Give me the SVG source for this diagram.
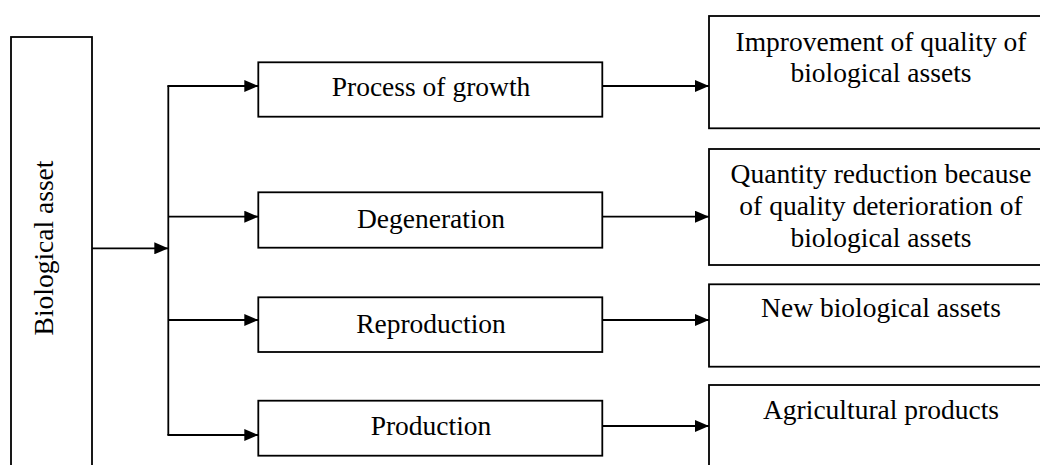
<svg xmlns="http://www.w3.org/2000/svg" width="1040" height="465" viewBox="0 0 1040 465">
<style>
.box{fill:#fff;stroke:#000;stroke-width:1.8}
.t{font-family:"Liberation Serif","Times New Roman",serif;font-size:27.5px;fill:#000;text-anchor:middle}
.c{fill:none;stroke:#000;stroke-width:1.8}
</style>
<defs>
<marker id="ah" markerUnits="userSpaceOnUse" markerWidth="14" markerHeight="12" refX="14" refY="6" orient="auto">
<path d="M0,0 L14,6 L0,12 Z" fill="#000"/>
</marker>
</defs>
<rect width="1040" height="465" fill="#fff"/>
<g id="n-bio">
<rect class="box" x="11" y="37" width="81" height="440"/>
<text class="t" transform="translate(53,248) rotate(-90)">Biological asset</text>
</g>
<g id="n-growth">
<rect class="box" x="258.3" y="62.3" width="344" height="54.4"/>
<text class="t" x="431" y="96">Process of growth</text>
</g>
<g id="n-degen">
<rect class="box" x="258.3" y="192.3" width="344" height="55.4"/>
<text class="t" x="431" y="228">Degeneration</text>
</g>
<g id="n-repro">
<rect class="box" x="258.3" y="297.3" width="344" height="54.7"/>
<text class="t" x="431" y="333">Reproduction</text>
</g>
<g id="n-prod">
<rect class="box" x="258.3" y="400.7" width="344" height="55"/>
<text class="t" x="431" y="435">Production</text>
</g>
<g id="n-improve">
<rect class="box" x="709" y="16" width="345" height="112.3"/>
<text class="t" x="881" y="50.7">Improvement of quality of</text>
<text class="t" x="881" y="81.7">biological assets</text>
</g>
<g id="n-quantity">
<rect class="box" x="709" y="149" width="345" height="116"/>
<text class="t" x="881" y="183.3">Quantity reduction because</text>
<text class="t" x="881" y="215">of quality deterioration of</text>
<text class="t" x="881" y="247.3">biological assets</text>
</g>
<g id="n-new">
<rect class="box" x="709" y="284.3" width="345" height="82.4"/>
<text class="t" x="881" y="316.7">New biological assets</text>
</g>
<g id="n-agri">
<rect class="box" x="709" y="385" width="345" height="100"/>
<text class="t" x="881" y="419.3">Agricultural products</text>
</g>
<g id="connectors">
<line class="c" x1="92" y1="248.3" x2="168.3" y2="248.3" marker-end="url(#ah)"/>
<line class="c" x1="168.3" y1="85.7" x2="168.3" y2="435"/>
<line class="c" x1="167.4" y1="86" x2="258.3" y2="86" marker-end="url(#ah)"/>
<line class="c" x1="168.3" y1="216.7" x2="258.3" y2="216.7" marker-end="url(#ah)"/>
<line class="c" x1="168.3" y1="320" x2="258.3" y2="320" marker-end="url(#ah)"/>
<line class="c" x1="167.4" y1="435" x2="258.3" y2="435" marker-end="url(#ah)"/>
<line class="c" x1="602.3" y1="86" x2="709" y2="86" marker-end="url(#ah)"/>
<line class="c" x1="602.3" y1="216.7" x2="709" y2="216.7" marker-end="url(#ah)"/>
<line class="c" x1="602.3" y1="320" x2="709" y2="320" marker-end="url(#ah)"/>
<line class="c" x1="602.3" y1="426" x2="709" y2="426" marker-end="url(#ah)"/>
</g>
</svg>
